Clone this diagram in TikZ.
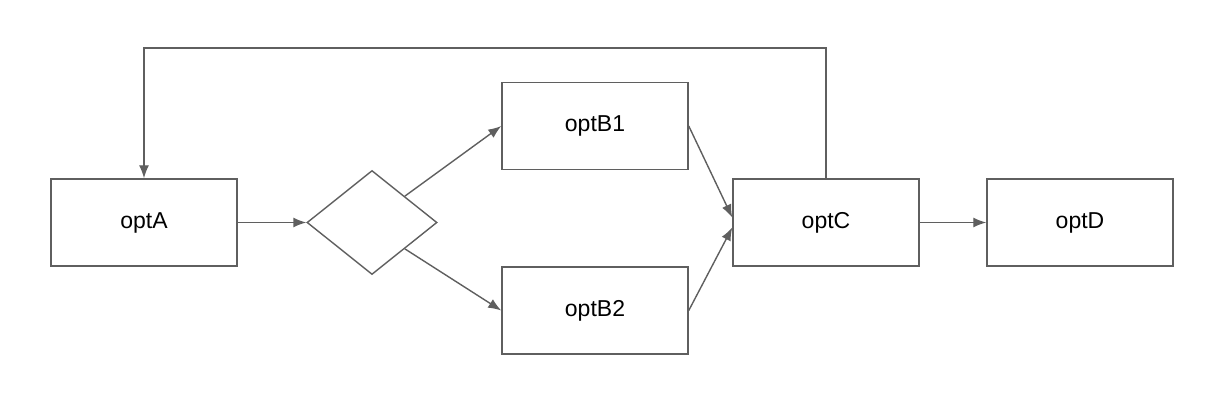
\documentclass[tikz,border=0pt]{standalone}
\usepackage{fontspec}
\setmainfont{Liberation Sans}
\usetikzlibrary{shapes.geometric, arrows.meta, positioning}
\definecolor{linegray}{RGB}{95,95,95}
\begin{document}
\begin{tikzpicture}[x=1pt,y=-1pt,on grid,
		optbox/.style={draw=linegray, line width=1.5pt, minimum width=186pt, minimum height=87pt, font=\fontsize{23}{27}\selectfont},
		choice/.style={draw=linegray, line width=1.4pt, diamond, minimum width=130pt, minimum height=104pt, inner sep=0pt},
		flow/.style={draw=linegray, line width=1.4pt, -{Latex[length=13pt,width=10pt]}}]
		\useasboundingbox (0,0) rectangle (1231,402);
		\node[optbox] (optA) at (144,222.5) {optA};
		\node[choice] (dia) [right=228pt of optA] {};
		\node[optbox] (optB1) [above right=96.5pt and 223pt of dia] {optB1};
		\node[optbox] (optB2) [below=184.5pt of optB1] {optB2};
		\node[optbox] (optC) [right=454pt of dia] {optC};
		\node[optbox] (optD) [right=254pt of optC] {optD};
		\coordinate (top) at (485,48);
		\draw[flow] (optA) -- (dia);
		\draw[flow] (dia.north east) -- (optB1.west);
		\draw[flow] (dia.south east) -- (optB2.west);
		\draw[flow] (optB1.east) -- ([yshift=5pt]optC.west);
		\draw[flow] (optB2.east) -- ([yshift=-5pt]optC.west);
		\draw[flow] (optC) -- (optD);
		\draw[flow] (optC.north) |- (top) -| (optA.north);
\end{tikzpicture}
\end{document}
